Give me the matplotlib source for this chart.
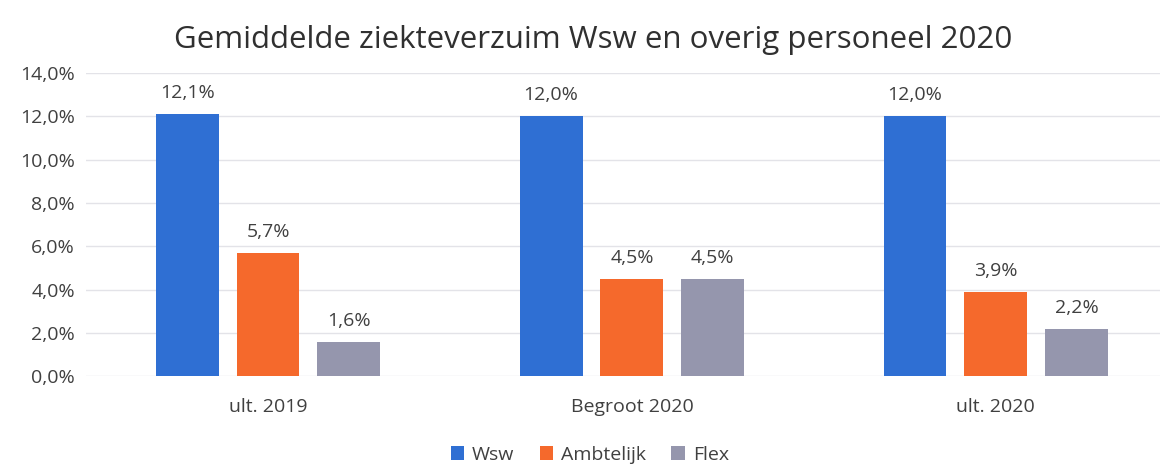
import matplotlib
matplotlib.use("Agg")
import matplotlib.pyplot as plt
import numpy as np
from matplotlib.ticker import FuncFormatter

plt.rcParams['font.family'] = ['Open Sans', 'DejaVu Sans']

categories = ["ult. 2019", "Begroot 2020", "ult. 2020"]
series_names = ["Wsw", "Ambtelijk", "Flex"]
wsw = [12.1, 12.0, 12.0]
ambtelijk = [5.7, 4.5, 3.9]
flex = [1.6, 4.5, 2.2]
colors = ["#2f6fd3", "#f5692c", "#9596ad"]

fig = plt.figure(figsize=(11.63, 4.65), dpi=100)
ax = fig.add_axes([0.074, 0.191, 0.923, 0.652])

x = np.arange(len(categories))
step = 0.222
width = 0.173
text_color = "#404040"
for i, (name, vals, c) in enumerate(zip(series_names, [wsw, ambtelijk, flex], colors)):
    pos = x + (i - 1) * step
    bars = ax.bar(pos, vals, width, color=c, label=name, zorder=3)
    for b, v in zip(bars, vals):
        ax.text(b.get_x() + b.get_width() / 2, v + 0.55, f"{v:.1f}%".replace(".", ","),
                ha="center", va="bottom", fontsize=14, color=text_color)

ax.set_ylim(0, 14)
ax.set_yticks(np.arange(0, 14.1, 2))
ax.yaxis.set_major_formatter(FuncFormatter(lambda v, p: f"{v:.1f}%".replace(".", ",")))
ax.set_xlim(-0.5, 2.45)
ax.set_xticks(x)
ax.set_xticklabels(categories)
ax.grid(axis="y", color="#e3e3e8", linewidth=1, zorder=0)
for s in ax.spines.values():
    s.set_visible(False)
ax.tick_params(axis="both", length=0, labelsize=14, colors=text_color)
ax.tick_params(axis="x", pad=16)
ax.tick_params(axis="y", pad=8)

fig.suptitle("Gemiddelde ziekteverzuim Wsw en overig personeel 2020", fontsize=22.5,
             color="#303030", y=0.915, x=0.51, va="center")
fig.legend(loc="lower center", bbox_to_anchor=(0.507, -0.035), ncol=3, frameon=False,
           fontsize=14, handlelength=0.7, handleheight=0.7, handletextpad=0.4,
           columnspacing=1.3, labelcolor=text_color)

fig.savefig("out.png", dpi=100, facecolor="white")
